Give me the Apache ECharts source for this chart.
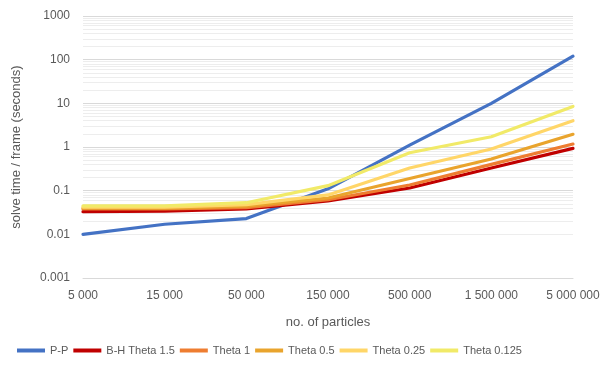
<!DOCTYPE html>
<html>
<head>
<meta charset="utf-8">
<script src="https://cdn.jsdelivr.net/npm/echarts@6/dist/echarts.min.js"></script>
<style>
html,body{margin:0;padding:0;background:#fff;}
#chart{width:606px;height:371px;}
</style>
</head>
<body>
<div id="chart"></div>
<script>
const categories = ['5 000','15 000','50 000','150 000','500 000','1 500 000','5 000 000'];
const seriesNames = ['P-P','B-H Theta 1.5','Theta 1','Theta 0.5','Theta 0.25','Theta 0.125'];
const pp        = [0.01, 0.017, 0.023, 0.11, 1.1, 10, 120];
const bh15      = [0.033, 0.034, 0.038, 0.058, 0.115, 0.33, 0.93];
const theta1    = [0.038, 0.038, 0.041, 0.062, 0.135, 0.4, 1.17];
const theta05   = [0.040, 0.040, 0.044, 0.068, 0.19, 0.53, 1.95];
const theta025  = [0.042, 0.042, 0.048, 0.08, 0.33, 0.9, 4.0];
const theta0125 = [0.045, 0.045, 0.053, 0.13, 0.74, 1.72, 8.5];
const yTickLabels = ['0.001','0.01','0.1','1','10','100','1000'];

const colors = ['#4472C4','#C00000','#EE7D31','#E9A42D','#FFD668','#F1EA68'];
const allData = [pp, bh15, theta1, theta05, theta025, theta0125];

// minor gridlines at 2..9 x 10^k (Excel style log minor grid)
const minorLines = [];
for (let k = -3; k <= 2; k++) {
  for (let m = 2; m <= 9; m++) {
    minorLines.push({ yAxis: m * Math.pow(10, k) });
  }
}

const series = allData.map((d, i) => ({
  name: seriesNames[i],
  type: 'line',
  data: d,
  symbol: 'none',
  smooth: false,
  lineStyle: { width: 3.2, color: colors[i], cap: 'round', join: 'round' },
  itemStyle: { color: colors[i] },
  z: 10 + i
}));
series.push({
  name: '__grid',
  type: 'line',
  data: [],
  silent: true,
  z: 1,
  markLine: {
    silent: true,
    z: 1,
    symbol: ['none','none'],
    label: { show: false },
    lineStyle: { color: '#EDEDED', width: 1, type: 'solid' },
    emphasis: { disabled: true },
    animation: false,
    data: minorLines
  }
});

const chart = echarts.init(document.getElementById('chart'), null, { renderer: 'canvas' });
chart.setOption({
  animation: false,
  backgroundColor: '#ffffff',
  textStyle: { fontFamily: 'Liberation Sans' },
  grid: { left: 83, right: 33, top: 16, bottom: 93, containLabel: false },
  legend: {
    data: seriesNames,
    bottom: 10,
    left: 12,
    icon: 'rect',
    itemWidth: 28,
    itemHeight: 4,
    itemGap: 5,
    textStyle: { color: '#595959', fontSize: 11, fontFamily: 'Liberation Sans' }
  },
  xAxis: {
    type: 'category',
    data: categories,
    boundaryGap: false,
    name: 'no. of particles',
    nameLocation: 'middle',
    nameGap: 38,
    nameTextStyle: { color: '#595959', fontSize: 13, fontFamily: 'Liberation Sans' },
    axisLine: { show: true, lineStyle: { color: '#D9D9D9' } },
    axisTick: { show: false },
    axisLabel: { color: '#595959', fontSize: 12, margin: 12, fontFamily: 'Liberation Sans' },
    splitLine: { show: false }
  },
  yAxis: {
    type: 'log',
    logBase: 10,
    min: 0.001,
    max: 1000,
    name: 'solve time / frame (seconds)',
    nameLocation: 'middle',
    nameGap: 60,
    nameRotate: 90,
    nameTextStyle: { color: '#595959', fontSize: 13, fontFamily: 'Liberation Sans' },
    axisLine: { show: false },
    axisTick: { show: false },
    axisLabel: {
      color: '#595959', fontSize: 12, margin: 13, fontFamily: 'Liberation Sans',
      formatter: function (v) {
        const e = Math.round(Math.log10(v));
        return yTickLabels[e + 3] !== undefined ? yTickLabels[e + 3] : '';
      }
    },
    splitLine: { show: true, lineStyle: { color: '#D9D9D9', width: 1 } },
    minorSplitLine: { show: false }
  },
  series: series
});
</script>
</body>
</html>
